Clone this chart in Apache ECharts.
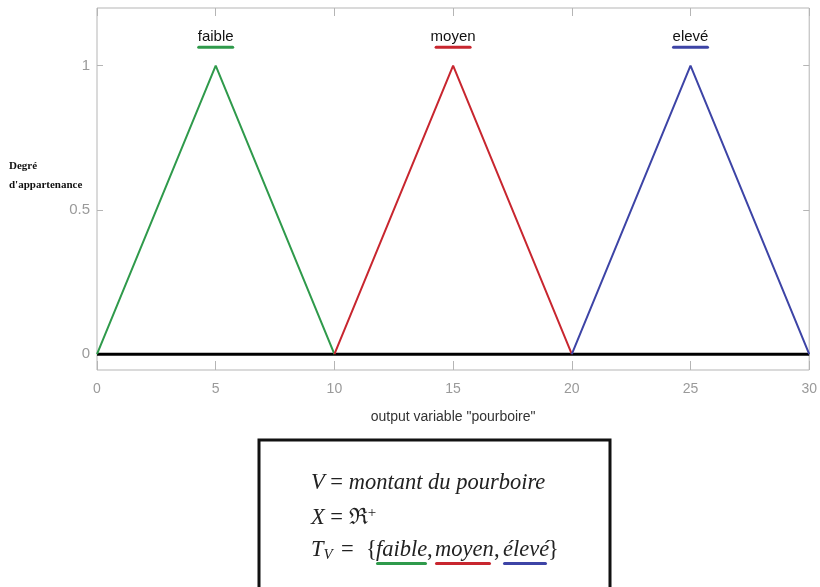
<!DOCTYPE html>
<html>
<head>
<meta charset="utf-8">
<script src="https://cdn.jsdelivr.net/npm/echarts@6/dist/echarts.min.js"></script>
<style>
  html, body { margin: 0; padding: 0; background: #fff; }
  #chart { width: 820px; height: 587px; }
</style>
</head>
<body>
<div id="chart"></div>
<script>
// Fuzzy sets of the linguistic variable "pourboire"
const setNames = ['faible', 'moyen', 'elevé'];
const setColors = ['#2f9a4b', '#c8262f', '#3d44a6'];
const faiblePts = [[0, 0], [5, 1], [10, 0]];
const moyenPts = [[10, 0], [15, 1], [20, 0]];
const elevePts = [[20, 0], [25, 1], [30, 0]];
const setPoints = [faiblePts, moyenPts, elevePts];
const labelPos = [[5, 1.095], [15, 1.095], [25, 1.095]];
const baseLine = [[0, 0], [30, 0]];
const xTicks = [0, 5, 10, 15, 20, 25, 30];
const yTicks = [0, 0.5, 1];
// Term set written in the definition box
const termWords = ['faible', 'moyen', 'élevé'];

const chart = echarts.init(document.getElementById('chart'));

const series = [];
series.push({
  type: 'line', data: baseLine, symbol: 'none', silent: true,
  lineStyle: { color: '#000', width: 3 }, z: 1
});
setPoints.forEach((pts, i) => {
  series.push({
    type: 'line', data: pts, symbol: 'none', silent: true,
    lineStyle: { color: setColors[i], width: 2 }, z: 3
  });
});
setNames.forEach((name, i) => {
  series.push({
    type: 'scatter', symbol: 'circle', symbolSize: 1, silent: true,
    itemStyle: { color: 'rgba(0,0,0,0)', opacity: 1 },
    data: [{ value: labelPos[i], name: name }],
    label: {
      show: true, position: 'inside', opacity: 1,
      formatter: '{t|{b}}\n{u|}',
      rich: {
        t: { fontFamily: 'Liberation Sans', fontSize: 15, color: '#111', lineHeight: 18, align: 'center' },
        u: { width: 37, height: 3, backgroundColor: setColors[i], align: 'center', borderRadius: 1.5 }
      }
    }
  });
});

const gray = '#9a9a9a';
const frame = '#b5b5b5';
const mathFont = '22.5px "Liberation Serif"';
const mathItalic = 'italic 22.5px "Liberation Serif"';
const ink = '#222';

// Pieces of the third line of the box, placed left to right
const wordX = [376, 435, 503];
const wordW = [51, 56, 44];
const lineY3 = 550;
const setGraphics = [
  { type: 'text', x: 311, y: lineY3, style: { font: mathFont, fill: ink, verticalAlign: 'middle',
      text: '{i|T}{s|V}', rich: { i: { font: mathItalic, fill: ink },
      s: { font: 'italic 15px "Liberation Serif"', fill: ink, padding: [10, 0, 0, 0] } } } },
  { type: 'text', x: 341, y: lineY3, style: { font: mathFont, fill: ink, verticalAlign: 'middle', text: '=' } },
  { type: 'text', x: 366, y: lineY3, style: { font: mathFont, fill: ink, verticalAlign: 'middle', text: '{' } },
  { type: 'text', x: 427, y: lineY3, style: { font: mathFont, fill: ink, verticalAlign: 'middle', text: ',' } },
  { type: 'text', x: 494, y: lineY3, style: { font: mathFont, fill: ink, verticalAlign: 'middle', text: ',' } },
  { type: 'text', x: 548, y: lineY3, style: { font: mathFont, fill: ink, verticalAlign: 'middle', text: '}' } }
];
termWords.forEach((w, i) => {
  setGraphics.push({ type: 'text', x: wordX[i], y: lineY3,
    style: { font: mathItalic, fill: ink, verticalAlign: 'middle', text: w } });
  setGraphics.push({ type: 'rect', shape: { x: wordX[i], y: 562, width: wordW[i], height: 3, r: 1.5 },
    style: { fill: setColors[i] } });
});

chart.setOption({
  animation: false,
  backgroundColor: '#fff',
  grid: { left: 97, right: 9, top: 8, bottom: 217, show: true, borderColor: frame, borderWidth: 1 },
  xAxis: [
    {
      type: 'value', min: 0, max: 30, position: 'bottom',
      axisLine: { show: false, onZero: false }, splitLine: { show: false },
      axisTick: { inside: true, length: 9, customValues: xTicks, lineStyle: { color: frame } },
      axisLabel: { customValues: xTicks, color: gray, fontFamily: 'Liberation Sans', fontSize: 14, margin: 12 },
      name: 'output variable "pourboire"', nameLocation: 'middle', nameGap: 40,
      nameTextStyle: { color: '#333', fontFamily: 'Liberation Sans', fontSize: 14 }
    },
    {
      type: 'value', min: 0, max: 30, position: 'top',
      axisLine: { show: false, onZero: false }, splitLine: { show: false },
      axisTick: { inside: true, length: 8, customValues: xTicks, lineStyle: { color: frame } },
      axisLabel: { show: false }
    }
  ],
  yAxis: [
    {
      type: 'value', min: -0.055, max: 1.2, position: 'left',
      axisLine: { show: false, onZero: false }, splitLine: { show: false },
      axisTick: { inside: true, length: 6, customValues: yTicks, lineStyle: { color: frame } },
      axisLabel: { customValues: yTicks, color: gray, fontFamily: 'Liberation Sans', fontSize: 15, margin: 7 }
    },
    {
      type: 'value', min: -0.055, max: 1.2, position: 'right',
      axisLine: { show: false, onZero: false }, splitLine: { show: false },
      axisTick: { inside: true, length: 6, customValues: yTicks, lineStyle: { color: frame } },
      axisLabel: { show: false }
    }
  ],
  series: series,
  graphic: [
    {
      type: 'text', left: 9, top: 157,
      style: {
        text: 'Degré\nd\'appartenance', fill: '#111',
        font: 'bold 11px "Liberation Serif"', lineHeight: 19
      }
    },
    {
      type: 'rect', shape: { x: 259, y: 440, width: 351, height: 160 },
      style: { fill: '#fff', stroke: '#111', lineWidth: 3 }
    },
    {
      type: 'text', x: 311, y: 483,
      style: {
        font: mathFont, fill: ink, verticalAlign: 'middle',
        text: '{i|V} = {i|montant du pourboire}',
        rich: { i: { font: mathItalic, fill: ink } }
      }
    },
    {
      type: 'text', x: 311, y: 518,
      style: {
        font: mathFont, fill: ink, verticalAlign: 'middle',
        text: '{i|X} = ℜ{s|+}',
        rich: {
          i: { font: mathItalic, fill: ink },
          s: { font: '15px "Liberation Serif"', fill: ink, padding: [0, 0, 10, 0] }
        }
      }
    }
  ].concat(setGraphics)
});
</script>
</body>
</html>
